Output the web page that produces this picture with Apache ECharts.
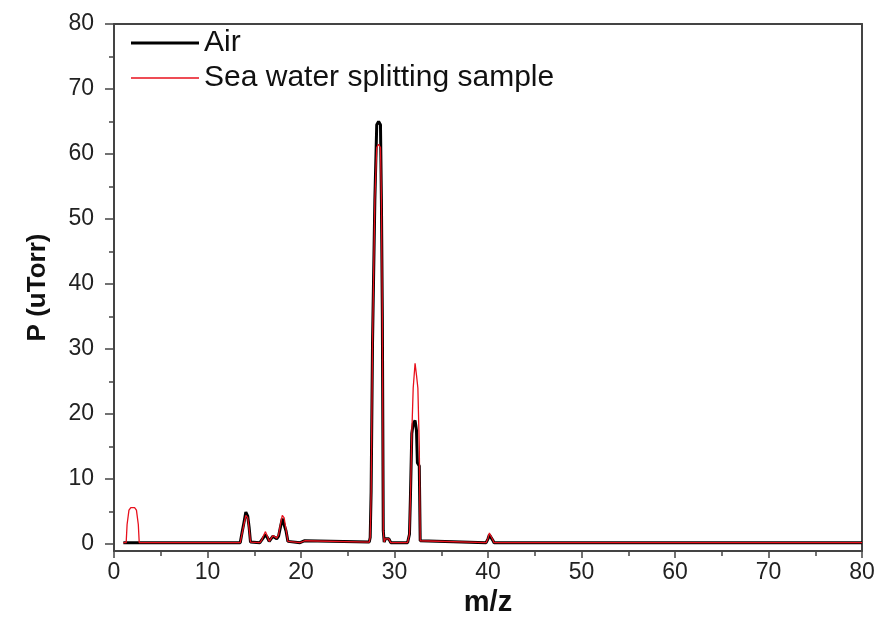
<!DOCTYPE html>
<html>
<head>
<meta charset="utf-8">
<script src="https://cdn.jsdelivr.net/npm/echarts@6/dist/echarts.min.js"></script>
<style>html,body{margin:0;padding:0;background:#fff;}#c{width:880px;height:634px;}</style>
</head>
<body>
<div id="c"></div>
<script>
// Tick labels
const xTicks = [0, 10, 20, 30, 40, 50, 60, 70, 80];
const yTicks = [0, 10, 20, 30, 40, 50, 60, 70, 80];
const yMinorTicks = [5, 15, 25, 35, 45, 55, 65, 75];
const seriesNames = ['Air', 'Sea water splitting sample'];

// m/z positions and pressures (uTorr) for "Air"
const airMz = [1.0, 1.3, 1.5, 1.7, 2.0, 2.3, 2.5, 2.7,
  13.5, 13.7, 13.9, 14.1, 14.3, 14.45, 14.6,
  15.6, 15.8, 16.0, 16.2, 16.4, 16.6, 16.8, 17.0, 17.2, 17.4, 17.6, 17.8, 18.0, 18.2, 18.4, 18.6, 18.75,
  19.9, 20.05, 20.4, 20.55,
  27.3, 27.4, 27.5, 27.65, 27.9, 28.1, 28.3, 28.5, 28.6, 28.7, 28.8, 28.9, 29.0, 29.2, 29.4, 29.6,
  31.4, 31.6, 31.7, 31.85, 32.0, 32.2, 32.35, 32.45, 32.65, 32.75, 32.9,
  39.8, 40.0, 40.15, 40.35, 40.5, 40.65,
  80];
const airP = [0.2, 0.2, 0.2, 0.2, 0.2, 0.2, 0.2, 0.2,
  0.2, 1.8, 3.3, 4.9, 4.3, 2.6, 0.3,
  0.2, 0.5, 1.0, 1.4, 1.0, 0.4, 0.6, 1.2, 0.9, 0.8, 1.2, 2.6, 3.9, 3.6, 2.0, 0.4, 0.2,
  0.2, 0.5, 0.5, 0.2,
  0.3, 1.0, 8.0, 31.0, 53.0, 64.5, 65.0, 64.5, 53.0, 35.0, 2.0, 0.3, 0.8, 1.0, 0.8, 0.2,
  0.2, 1.5, 7.0, 17.0, 18.5, 19.0, 17.5, 12.5, 12.0, 0.5, 0.2,
  0.2, 0.8, 1.4, 1.3, 0.6, 0.2,
  0.2];

// m/z positions and pressures (uTorr) for "Sea water splitting sample"
const seaMz = [1.0, 1.3, 1.4, 1.6, 1.8, 2.0, 2.2, 2.4, 2.6, 2.7,
  13.5, 13.7, 13.9, 14.1, 14.3, 14.45, 14.6,
  15.6, 15.8, 16.0, 16.2, 16.4, 16.6, 16.8, 17.0, 17.2, 17.4, 17.6, 17.8, 18.0, 18.2, 18.4, 18.6, 18.75,
  19.9, 20.05, 20.4, 20.55,
  27.3, 27.4, 27.5, 27.65, 27.9, 28.1, 28.3, 28.5, 28.6, 28.7, 28.8, 28.9, 29.0, 29.2, 29.4, 29.6,
  31.4, 31.6, 31.7, 31.85, 32.0, 32.2, 32.35, 32.5, 32.65, 32.75, 32.9,
  39.8, 40.0, 40.15, 40.35, 40.5, 40.65,
  80];
const seaP = [0.2, 0.2, 3.0, 5.2, 5.6, 5.7, 5.6, 5.2, 3.0, 0.2,
  0.2, 1.6, 3.0, 4.4, 4.0, 2.4, 0.3,
  0.2, 0.6, 1.3, 1.9, 1.2, 0.4, 0.7, 1.3, 1.0, 0.9, 1.4, 3.0, 4.4, 4.0, 2.2, 0.4, 0.2,
  0.2, 0.5, 0.5, 0.2,
  0.3, 1.0, 8.0, 31.0, 53.0, 61.0, 61.5, 61.0, 53.0, 35.0, 2.0, 0.3, 0.8, 1.0, 0.8, 0.2,
  0.2, 1.5, 7.0, 17.0, 24.0, 27.8, 26.0, 24.0, 15.0, 0.5, 0.2,
  0.2, 0.9, 1.7, 1.6, 0.7, 0.2,
  0.2];

const pairs = (xs, ys) => xs.map((x, i) => [x, ys[i]]);
const FONT = '"Liberation Sans", Arial, sans-serif';
const AXC = '#444';

const chart = echarts.init(document.getElementById('c'), null, {renderer: 'canvas'});
const gridPos = {left: 114, right: 18, top: 24, bottom: 83};
const yMin = -1.08;
chart.setOption({
  backgroundColor: '#fff',
  animation: false,
  grid: [Object.assign({}, gridPos), Object.assign({}, gridPos)],
  legend: {
    orient: 'vertical', left: 126, top: 23, itemGap: 5,
    itemWidth: 68, itemHeight: 14, itemStyle: {borderWidth: 0},
    textStyle: {fontFamily: FONT, fontSize: 30, color: '#111', lineHeight: 30},
    data: [
      {name: seriesNames[0], icon: 'path://M0,0H68V3H0Z', itemStyle: {color: '#000'}},
      {name: seriesNames[1], icon: 'path://M0,0H68V1.4H0Z', itemStyle: {color: '#e8101c'}}
    ]
  },
  xAxis: [
    {type: 'value', gridIndex: 0, position: 'bottom', min: 0, max: 80, interval: 10,
     name: 'm/z', nameLocation: 'middle', nameGap: 27,
     nameTextStyle: {fontFamily: FONT, fontSize: 29, fontWeight: 'bold', color: '#111'},
     axisLine: {show: true, onZero: false, lineStyle: {color: AXC, width: 2}},
     axisTick: {show: true, inside: false, length: 7, lineStyle: {color: AXC, width: 1.5}},
     minorTick: {show: true, splitNumber: 2, length: 5, lineStyle: {color: AXC, width: 1.5}},
     axisLabel: {fontFamily: FONT, fontSize: 23, color: '#222', margin: 10,
       customValues: xTicks},
     splitLine: {show: false}},
    {type: 'value', gridIndex: 0, position: 'top', min: 0, max: 80,
     axisLine: {show: true, onZero: false, lineStyle: {color: AXC, width: 2}},
     axisTick: {show: false}, axisLabel: {show: false}, splitLine: {show: false}},
    {type: 'value', gridIndex: 1, min: 0, max: 80, show: false}
  ],
  yAxis: [
    {type: 'value', gridIndex: 0, position: 'left', min: yMin, max: 80,
     name: 'P (uTorr)', nameLocation: 'middle', nameGap: 63,
     nameTextStyle: {fontFamily: FONT, fontSize: 26, fontWeight: 'bold', color: '#111'},
     axisLine: {show: true, onZero: false, lineStyle: {color: AXC, width: 2}},
     axisTick: {show: true, inside: false, length: 9, customValues: yTicks,
       lineStyle: {color: AXC, width: 1.5}},
     axisLabel: {fontFamily: FONT, fontSize: 23, color: '#222', margin: 20,
       customValues: yTicks},
     splitLine: {show: false}},
    {type: 'value', gridIndex: 0, position: 'right', min: yMin, max: 80,
     axisLine: {show: true, onZero: false, lineStyle: {color: AXC, width: 2}},
     axisTick: {show: false}, axisLabel: {show: false}, splitLine: {show: false}},
    {type: 'value', gridIndex: 1, position: 'left', min: yMin, max: 80,
     axisLine: {show: false},
     axisTick: {show: true, inside: false, length: 5, customValues: yMinorTicks,
       lineStyle: {color: AXC, width: 1.5}},
     axisLabel: {show: false}, splitLine: {show: false}}
  ],
  series: [
    {name: seriesNames[0], type: 'line', xAxisIndex: 0, yAxisIndex: 0,
     data: pairs(airMz, airP), symbol: 'none', smooth: false,
     lineStyle: {color: '#000', width: 3}, itemStyle: {color: '#000'}},
    {name: seriesNames[1], type: 'line', xAxisIndex: 0, yAxisIndex: 0,
     data: pairs(seaMz, seaP), symbol: 'none', smooth: false,
     lineStyle: {color: '#e8101c', width: 1.3}, itemStyle: {color: '#e8101c'}}
  ]
});
</script>
</body>
</html>
